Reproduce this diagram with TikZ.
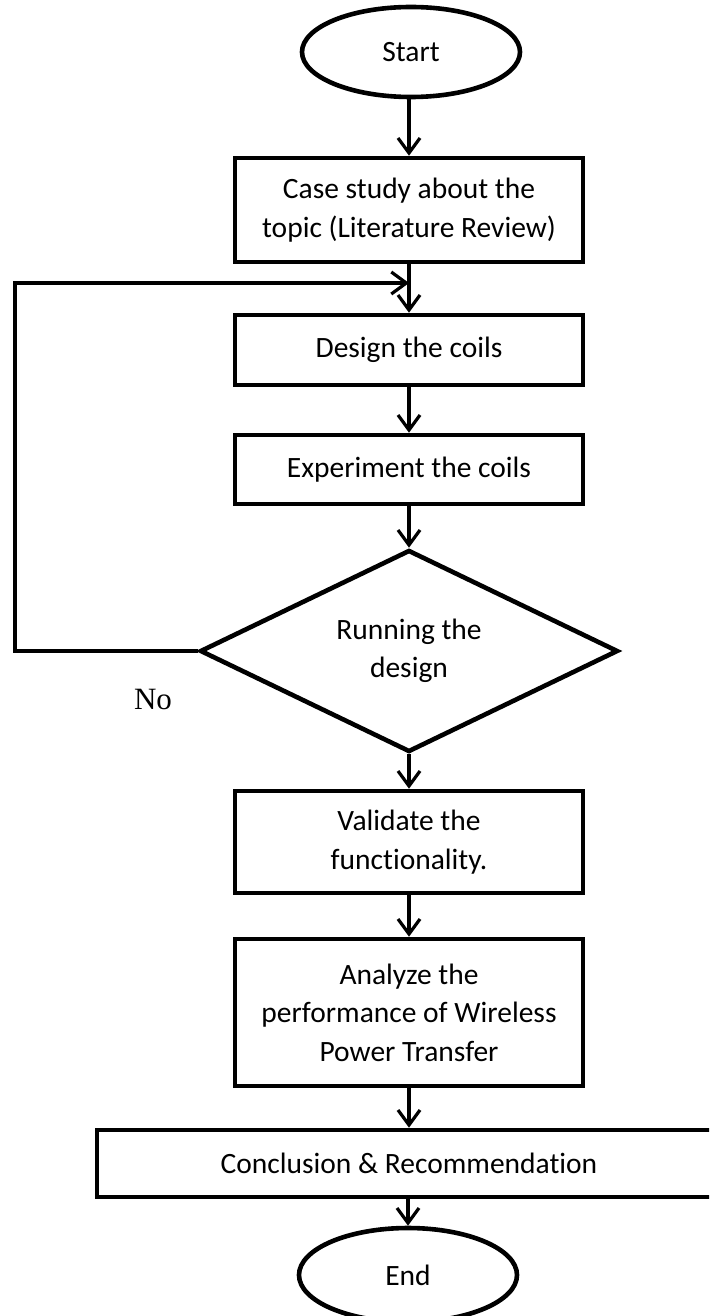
\documentclass[tikz,border=0pt]{standalone}
\usepackage{fontspec}
\setmainfont{Carlito}[Ligatures={NoCommon,NoRare}]
\newfontfamily\timesfont{Liberation Serif}
\usetikzlibrary{shapes.geometric,arrows.meta}
\tikzset{
  boxnode/.style={draw, line width=4.6pt, rectangle, minimum width=348pt, inner sep=0pt, align=center,
    font=\fontsize{29.5}{38.5}\selectfont},
  termnode/.style={draw, line width=4.6pt, ellipse, minimum width=218pt, minimum height=90pt, inner sep=0pt,
    font=\fontsize{29.5}{38.5}\selectfont},
  decnode/.style={draw, line width=4.6pt, diamond, aspect=2, minimum width=418pt, minimum height=202pt, inner sep=0pt,
    align=center, font=\fontsize{29.5}{38.5}\selectfont},
  conn/.style={line width=3.2pt, -{Straight Barb[length=15pt,width=22pt]}},
}
\begin{document}
\begin{tikzpicture}[x=1pt,y=-1pt,line join=miter]
\useasboundingbox (0,0) rectangle (709,1316);
\clip (0,0) rectangle (709,1316);
\node[termnode] (start) at (411,52) {Start};
\node[boxnode, minimum height=104pt] (b1) at (409,210) {Case study about the\\topic (Literature Review)};
\node[boxnode, minimum height=70pt] (b2) at (409,350) {Design the coils};
\node[boxnode, minimum height=69pt] (b3) at (409,469.5) {Experiment the coils};
\node[decnode] (dec) at (409,651) {Running the\\design};
\node[boxnode, minimum height=102pt] (b4) at (409,842) {Validate the\\functionality.};
\node[boxnode, minimum height=147pt] (b5) at (409,1012.5) {Analyze the\\performance of Wireless\\Power Transfer};
\node[boxnode, minimum width=624pt, minimum height=67pt] (b6) at (409,1163.5) {Conclusion \& Recommendation};
\node[termnode, minimum height=94pt] (end) at (408,1275) {End};
\node[font=\timesfont\fontsize{31}{36}\selectfont, inner sep=0pt] (no) at (153,699) {No};
\coordinate (fbA) at (15,283);
\coordinate (fbB) at (409,283);
\draw[conn] (start.south -| b1.north) -- (b1.north);
\draw[conn] (b1) -- (b2);
\draw[conn] (b2) -- (b3);
\draw[conn] (b3) -- (dec);
\draw[conn] (dec) -- (b4);
\draw[conn] (b4) -- (b5);
\draw[conn] (b5) -- (b6);
\draw[conn] (b6.south -| end.north) -- (end.north);
\draw[conn] (dec.west) -| (fbA) -- (fbB);
\end{tikzpicture}
\end{document}
